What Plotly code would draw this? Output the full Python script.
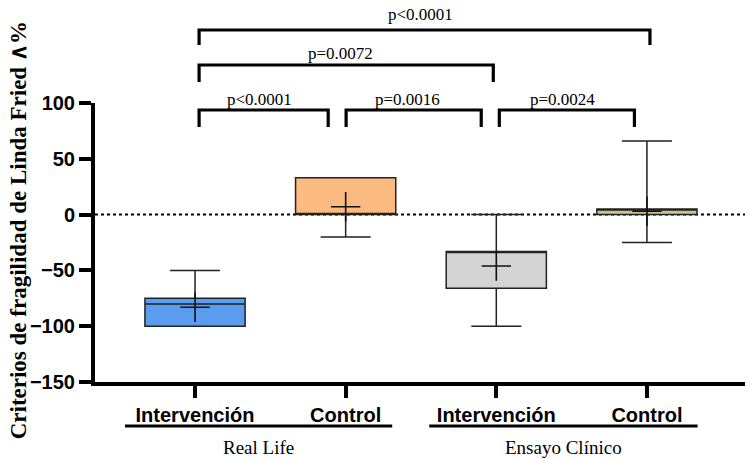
import plotly.graph_objects as go

# ---------------- data ----------------
categories = ["Intervención", "Control", "Intervención", "Control"]
groups = ["Real Life", "Ensayo Clínico"]
q1 = [-100, 0, -66, 0]
median = [-80, 0, -33, 5]
q3 = [-75, 33, -33, 5]
lower = [-100, -20, -100, -25]
upper = [-50, 33, 0, 66]
means = [-83, 7, -46, 3]
# comparisons: (left group index, right group index, label)
comparisons = [(0, 3, "p<0.0001"), (0, 2, "p=0.0072"), (0, 1, "p<0.0001"),
               (1, 2, "p=0.0016"), (2, 3, "p=0.0024")]
y_ticks = [-150, -100, -50, 0, 50, 100]

# ---------------- style ----------------
colors = ["#5b9cf0", "#fbbb80", "#d4d4d4", "#cbc28f"]
xpos = list(range(len(categories)))

fig = go.Figure()
for i in xpos:
    fig.add_trace(go.Box(
        x=[i], q1=[q1[i]], median=[median[i]], q3=[q3[i]],
        lowerfence=[lower[i]], upperfence=[upper[i]],
        width=0.665, whiskerwidth=0.5, boxpoints=False,
        fillcolor=colors[i], line=dict(color="#222222", width=1.5),
        showlegend=False, hoverinfo="skip"))

fig.add_trace(go.Scatter(
    x=xpos, y=means, mode="markers", showlegend=False, hoverinfo="skip",
    marker=dict(symbol="cross-thin", size=21, line=dict(color="#111111", width=1.6))))

shapes = []
annotations = []

# dotted zero line
shapes.append(dict(type="line", xref="paper", yref="y", x0=0, x1=1, y0=0, y1=0,
                   line=dict(color="black", width=2, dash="dot"), layer="below"))

def pix(p):  # pixel row -> paper y
    return (382 - p) / 279.0

bracket_geom = {
    0: dict(top=pix(30), bot=pix(45), text=pix(14), dl=0.027, dr=0.02, tx=-0.03),
    1: dict(top=pix(65), bot=pix(82), text=pix(53), dl=0.027, dr=-0.02, tx=-0.04),
    2: dict(top=pix(110), bot=pix(127), text=pix(99), dl=0.027, dr=-0.116, tx=-0.03),
    3: dict(top=pix(110), bot=pix(127), text=pix(99), dl=0.003, dr=-0.10, tx=-0.04),
    4: dict(top=pix(110), bot=pix(127), text=pix(99), dl=0.02, dr=-0.083, tx=-0.03),
}
for k, (a, b, lab) in enumerate(comparisons):
    g = bracket_geom[k]
    xa, xb = a + g["dl"], b + g["dr"]
    shapes.append(dict(type="path", xref="x", yref="paper",
                       path=f"M {xa},{g['bot']} L {xa},{g['top']} L {xb},{g['top']} L {xb},{g['bot']}",
                       line=dict(color="black", width=3.2)))
    annotations.append(dict(x=(xa + xb) / 2 + g["tx"], y=g["text"], xref="x", yref="paper",
                            text=lab, showarrow=False, xanchor="center", yanchor="middle",
                            font=dict(family="Liberation Serif", size=17, color="black")))

# group underlines and labels
group_spans = [(-0.465, 1.309), (1.555, 3.336)]
for gname, (x0, x1) in zip(groups, group_spans):
    shapes.append(dict(type="line", xref="x", yref="paper", x0=x0, x1=x1,
                       y0=pix(426), y1=pix(426), line=dict(color="black", width=3)))
    annotations.append(dict(x=(x0 + x1) / 2, y=pix(447), xref="x", yref="paper",
                            text=gname, showarrow=False, xanchor="center", yanchor="middle",
                            font=dict(family="Liberation Serif", size=19, color="black")))

# y-axis title
annotations.append(dict(x=-0.118, y=pix(230), xref="paper", yref="paper",
                        text="<b>Criterios de fragilidad de Linda Fried ∧%</b>",
                        textangle=-90, showarrow=False, xanchor="center", yanchor="middle",
                        font=dict(family="Liberation Serif", size=23, color="black")))

fig.update_layout(
    width=745, height=459,
    margin=dict(l=95, r=0, t=103, b=77),
    paper_bgcolor="white", plot_bgcolor="white",
    shapes=shapes, annotations=annotations,
    boxmode="overlay",
    xaxis=dict(range=[-0.664, 3.651], tickmode="array", tickvals=xpos, ticktext=categories,
               showline=True, linecolor="black", linewidth=4, ticks="outside",
               ticklen=12, tickwidth=3.5, tickcolor="black", showgrid=False, zeroline=False,
               tickfont=dict(family="Liberation Sans", size=20, color="black", weight="bold")),
    yaxis=dict(range=[-150, 100], tickmode="array", tickvals=y_ticks,
               showline=True, linecolor="black", linewidth=4, ticks="outside",
               ticklen=12, tickwidth=3.5, tickcolor="black", showgrid=False, zeroline=False,
               tickfont=dict(family="Liberation Sans", size=20, color="black", weight="bold")),
)

fig.write_html("out.html")
